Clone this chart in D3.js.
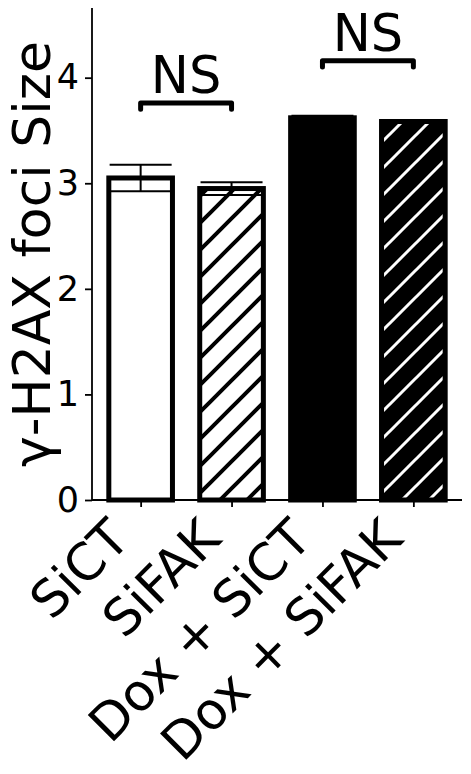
<!DOCTYPE html>
<html>
<head>
<meta charset="utf-8">
<script src="https://cdn.jsdelivr.net/npm/d3@7"></script>
<style>
  html, body { margin: 0; padding: 0; background: #fff; }
  svg { display: block; font-family: "DejaVu Sans", sans-serif; }
</style>
</head>
<body>
<svg id="chart" width="471" height="774"></svg>
<script>
// ---- data ----
const categories = ["SiCT", "SiFAK", "Dox + SiCT", "Dox + SiFAK"];
const means = [3.05, 2.95, 3.62, 3.585];
const errors = [0.125, 0.06, 0.02, 0.012];
const yTicks = [0, 1, 2, 3, 4];
const sigPairs = [[0, 1], [2, 3]];
const sigHeights = [3.76, 4.16];
const sigLabels = ["NS", "NS"];
const yLabel = "γ-H2AX foci Size";

// ---- styles (not data) ----
const fills = ["white", "white", "black", "black"];
const hatches = [null, "hatchBlack", null, "hatchWhite"];

const svg = d3.select("#chart");
const mLeft = 92, mRight = 462, mBottom = 500, mTop = 8;

const x = d3.scaleLinear().domain([-0.535, 3.535]).range([mLeft, mRight]);
const y = d3.scaleLinear().domain([0, 4.66]).range([mBottom, mTop]);
const barW = 0.7;

// hatch patterns
const defs = svg.append("defs");
function makeHatch(id, color, width, offset) {
  const p = 27;
  const pat = defs.append("pattern")
    .attr("id", id).attr("patternUnits", "userSpaceOnUse")
    .attr("width", p).attr("height", p).attr("x", offset).attr("y", 0);
  pat.append("path")
    .attr("d", `M0,${p} L${p},0 M${-p/4},${p/4} L${p/4},${-p/4} M${3*p/4},${5*p/4} L${5*p/4},${3*p/4}`)
    .attr("stroke", color).attr("stroke-width", width).attr("fill", "none");
}
makeHatch("hatchBlack", "black", 4, 18);
makeHatch("hatchWhite", "white", 3, 11);

// bars
const bars = svg.append("g");
categories.forEach((c, i) => {
  const x0 = x(i - barW / 2), x1 = x(i + barW / 2);
  const yt = y(means[i]), yb = y(0);
  bars.append("rect").attr("x", x0).attr("y", yt).attr("width", x1 - x0).attr("height", yb - yt)
    .attr("fill", fills[i]);
  if (hatches[i]) {
    bars.append("rect").attr("x", x0).attr("y", yt).attr("width", x1 - x0).attr("height", yb - yt)
      .attr("fill", `url(#${hatches[i]})`);
  }
  bars.append("rect").attr("x", x0).attr("y", yt).attr("width", x1 - x0).attr("height", yb - yt)
    .attr("fill", "none").attr("stroke", "black").attr("stroke-width", 5);
});

// error bars
const eb = svg.append("g").attr("stroke", "black").attr("stroke-width", 2);
categories.forEach((c, i) => {
  const cx = x(i);
  const capHalf = 31;
  eb.append("line").attr("x1", cx).attr("x2", cx).attr("y1", y(means[i] - errors[i])).attr("y2", y(means[i] + errors[i]));
  [means[i] - errors[i], means[i] + errors[i]].forEach(v => {
    eb.append("line").attr("x1", cx - capHalf).attr("x2", cx + capHalf).attr("y1", y(v)).attr("y2", y(v));
  });
});

// axes
const yAxis = d3.axisLeft(y).tickValues(yTicks).tickFormat(d3.format("d")).tickSize(7).tickPadding(6);
const gy = svg.append("g").attr("transform", `translate(${mLeft},0)`).call(yAxis);
gy.select(".domain").attr("d", `M0,${mTop}V${mBottom}`).attr("stroke-width", 1.8);
gy.selectAll(".tick line").attr("stroke-width", 1.8);
gy.selectAll(".tick text").attr("font-size", 35).attr("font-family", "DejaVu Sans").attr("fill", "black");

const xAxis = d3.axisBottom(x).tickValues(d3.range(categories.length)).tickFormat(() => "").tickSize(7);
const gx = svg.append("g").attr("transform", `translate(0,${mBottom})`).call(xAxis);
gx.select(".domain").attr("d", `M${mLeft},0H${mRight}`).attr("stroke-width", 1.8);
gx.selectAll(".tick line").attr("stroke-width", 1.8);

// rotated x labels (matplotlib style: rotated bbox right-aligned at tick, top at tick+pad)
const fs = 51;
const asc = 0.76 * fs, desc = 0.24 * fs;
const labTop = mBottom + 14;
categories.forEach((c, i) => {
  const bx = x(i) - desc / Math.SQRT2;
  const by = labTop + asc / Math.SQRT2;
  svg.append("text")
    .attr("transform", `translate(${bx},${by}) rotate(-45)`)
    .attr("text-anchor", "end")
    .attr("font-size", fs)
    .attr("fill", "black")
    .text(c);
});

// y label
svg.append("text")
  .attr("transform", `translate(50,${(mTop + mBottom) / 2}) rotate(-90)`)
  .attr("text-anchor", "middle")
  .attr("font-size", 52)
  .attr("fill", "black")
  .text(yLabel);

// significance brackets
const sg = svg.append("g");
sigPairs.forEach((pr, k) => {
  const h = sigHeights[k];
  const xa = x(pr[0]), xb = x(pr[1]);
  const yh = y(h), yl = y(h - 0.06);
  sg.append("path")
    .attr("d", `M${xa},${yl}V${yh}H${xb}V${yl}`)
    .attr("fill", "none").attr("stroke", "black").attr("stroke-width", 5)
    .attr("stroke-linecap", "round").attr("stroke-linejoin", "round");
  sg.append("text")
    .attr("x", (xa + xb) / 2).attr("y", yh - 10)
    .attr("text-anchor", "middle").attr("font-size", 51).attr("fill", "black")
    .text(sigLabels[k]);
});
</script>
</body>
</html>
